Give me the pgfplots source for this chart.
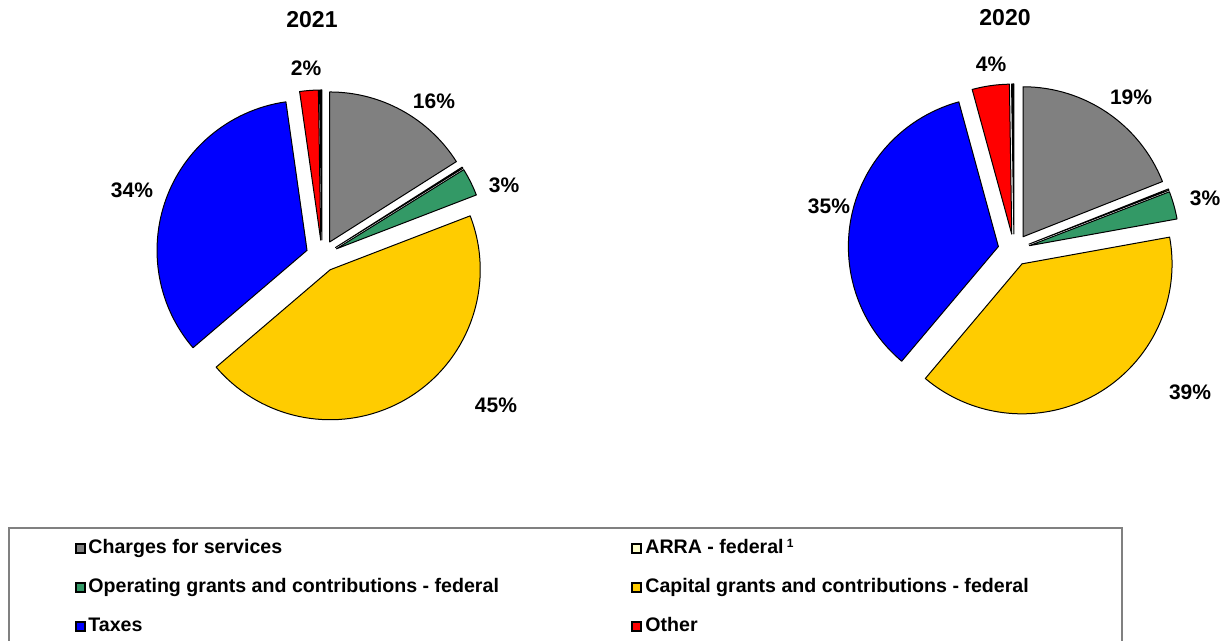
\documentclass[border=0pt]{standalone}
\usepackage{pgfplots}
\usepackage{pgfplotstable}
\pgfplotsset{compat=1.18}
\usepackage{fontspec}
\setmainfont{Liberation Sans}

\definecolor{pgray}{HTML}{808080}
\definecolor{pwhite}{HTML}{FFFFCC}
\definecolor{pgreen}{HTML}{339966}
\definecolor{pyellow}{HTML}{FFCC00}
\definecolor{pblue}{HTML}{0000FF}
\definecolor{pred}{HTML}{FF0000}
\definecolor{pblack}{HTML}{000000}

% shares in percent, clockwise from 12 o'clock
\pgfplotstableread{
name      val   col
charges   16.0  pgray
arra      0.15  pwhite
opgrants  3.0   pgreen
capgrants 44.6  pyellow
taxes     34.0  pblue
other     2.0   pred
zero      0.25  pblack
}\pieA

\pgfplotstableread{
name      val   col
charges   19.0  pgray
arra      0.15  pwhite
opgrants  3.0   pgreen
capgrants 39.0  pyellow
taxes     34.6  pblue
other     4.0   pred
zero      0.25  pblack
}\pieB

% #1 table, #2 #3 centre in axis units; radius 150 and explosion 16 (axis units = 0.5pt)
\newcommand\drawpie[3]{%
  \pgfplotstablegetrowsof{#1}%
  \pgfmathtruncatemacro\lastrow{\pgfplotsretval-1}%
  \gdef\cumangle{90}%
  \foreach \i in {0,...,\lastrow}{%
    \pgfplotstablegetelem{\i}{val}\of{#1}\let\pv=\pgfplotsretval
    \pgfplotstablegetelem{\i}{col}\of{#1}\let\pc=\pgfplotsretval
    \pgfmathsetmacro\sa{\cumangle}%
    \pgfmathsetmacro\ea{\cumangle-3.6*\pv}%
    \pgfmathsetmacro\ma{(\sa+\ea)/2}%
    \xdef\cumangle{\ea}%
    \filldraw[fill=\pc, draw=black, line width=0.5pt, line join=round]
      ([shift={(\ma:8pt)}]axis cs:#2,#3) -- +(\sa:75pt)
      arc[start angle=\sa, end angle=\ea, radius=75pt] -- cycle;
  }%
}

\begin{document}
\begin{tikzpicture}
\begin{axis}[
  x=0.5pt, y=0.5pt,
  xmin=0, xmax=1224, ymin=0, ymax=641,
  hide axis, clip=false,
  every node/.style={font=\bfseries},
]
\pgfplotsextra{\drawpie{\pieA}{322}{385}}
\pgfplotsextra{\drawpie{\pieB}{1014}{391}}

% titles
\node[font=\fontsize{11.5}{12}\bfseries\selectfont] at (axis cs:312,621) {2021};
\node[font=\fontsize{11.5}{12}\bfseries\selectfont] at (axis cs:1005,623) {2020};

% data labels
\begin{scope}[every node/.style={font=\fontsize{10.5}{12}\bfseries\selectfont}]
\node at (axis cs:434,540) {16\%};
\node at (axis cs:504,456) {3\%};
\node at (axis cs:496,236) {45\%};
\node at (axis cs:132,451) {34\%};
\node at (axis cs:306,573) {2\%};
\node at (axis cs:1131,544) {19\%};
\node at (axis cs:1205,443) {3\%};
\node at (axis cs:1190,249) {39\%};
\node at (axis cs:829,435) {35\%};
\node at (axis cs:991,577) {4\%};
\end{scope}

% legend box
\draw[black!50, line width=1pt] (axis cs:9,-2) -- (axis cs:9,113) -- (axis cs:1122,113) -- (axis cs:1122,-2);
\begin{scope}[every node/.style={font=\fontsize{9.8}{11}\bfseries\selectfont, anchor=base west, inner sep=0pt}]
\filldraw[fill=pgray, draw=black, line width=0.6pt] (axis cs:76,88) rectangle (axis cs:85,97);
\node at (axis cs:88,87) {Charges for services};
\filldraw[fill=pgreen, draw=black, line width=0.6pt] (axis cs:76,49) rectangle (axis cs:85,58);
\node at (axis cs:88,48) {Operating grants and contributions - federal};
\filldraw[fill=pblue, draw=black, line width=0.6pt] (axis cs:76,10) rectangle (axis cs:85,19);
\node at (axis cs:88,9) {Taxes};
\filldraw[fill=pwhite, draw=black, line width=0.6pt] (axis cs:632,88) rectangle (axis cs:641,97);
\node at (axis cs:645,87) {ARRA - federal\,\raisebox{0.6ex}{\fontsize{6}{6}\bfseries\selectfont 1}};
\filldraw[fill=pyellow, draw=black, line width=0.6pt] (axis cs:632,49) rectangle (axis cs:641,58);
\node at (axis cs:645,48) {Capital grants and contributions - federal};
\filldraw[fill=pred, draw=black, line width=0.6pt] (axis cs:632,10) rectangle (axis cs:641,19);
\node at (axis cs:645,9) {Other};
\end{scope}
\end{axis}
\pgfresetboundingbox
\path (0,0) rectangle (612pt,320.5pt);
\end{tikzpicture}
\end{document}
